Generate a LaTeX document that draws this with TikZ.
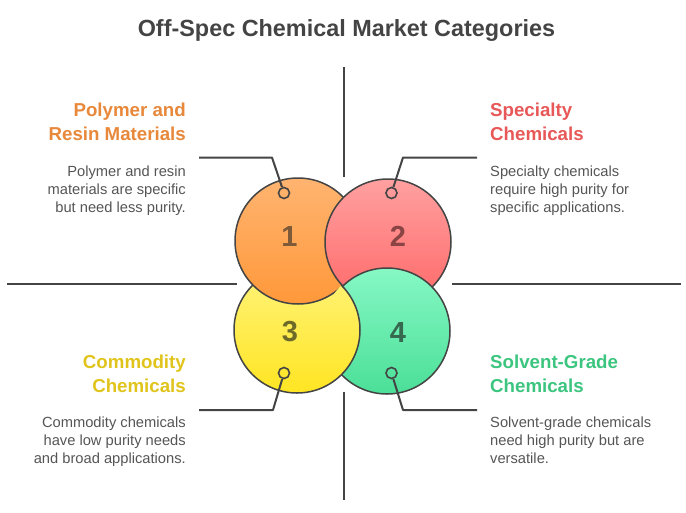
\documentclass[tikz,border=0pt]{standalone}
\usepackage{fontspec}
\setmainfont{Liberation Sans}
\definecolor{dark}{HTML}{444444}
\definecolor{bodygray}{HTML}{555555}
\definecolor{orA}{HTML}{FFB470}
\definecolor{orB}{HTML}{FF983A}
\definecolor{rdA}{HTML}{FFA0A0}
\definecolor{rdB}{HTML}{FF6868}
\definecolor{ylA}{HTML}{FFF37C}
\definecolor{ylB}{HTML}{FFE522}
\definecolor{gnA}{HTML}{86F8C4}
\definecolor{gnB}{HTML}{4BDF98}
\definecolor{hOr}{HTML}{E8883A}
\definecolor{hRd}{HTML}{E85858}
\definecolor{hYl}{HTML}{E0C41C}
\definecolor{hGn}{HTML}{3CC57F}
\definecolor{nOr}{HTML}{7E5A38}
\definecolor{nRd}{HTML}{8A4444}
\definecolor{nYl}{HTML}{6E6A2A}
\definecolor{nGn}{HTML}{35684F}
\begin{document}
\begin{tikzpicture}[x=1pt,y=-1pt,
  ring/.style={draw=dark,line width=1.5pt},
  lead/.style={draw=dark,line width=2pt},
  marker/.style={circle,draw=dark,line width=1.6pt,minimum size=11pt,inner sep=0pt},
  head/.style={font=\bfseries\fontsize{18.7}{23.5}\selectfont,inner sep=0pt},
  body/.style={font=\fontsize{14.7}{18}\selectfont,text=bodygray,inner sep=0pt},
  num/.style={font=\bfseries\fontsize{29}{29}\selectfont,inner sep=0pt},
  ttl/.style={font=\bfseries\fontsize{23.4}{23.4}\selectfont,text=dark,inner sep=0pt}]
\useasboundingbox (0,0) rectangle (686,512);
\node[ttl,anchor=base] (title) at (346.5,36.7) {Off-Spec Chemical Market Categories};
% cross lines
\coordinate (vt1) at (344,67); \coordinate (vt2) at (344,177);
\coordinate (vb1) at (344,392); \coordinate (vb2) at (344,500);
\coordinate (hl1) at (7,284); \coordinate (hl2) at (237,284);
\coordinate (hr1) at (452,284); \coordinate (hr2) at (681,284);
\draw[lead] (vt1) -- (vt2);
\draw[lead] (vb1) -- (vb2);
\draw[lead] (hl1) -- (hl2);
\draw[lead] (hr1) -- (hr2);
% circles (woven)
\path[ring,top color=ylA,bottom color=ylB] (297,330) circle (63);
\path[ring,top color=orA,bottom color=orB] (298,241) circle (63);
\path[ring,top color=rdA,bottom color=rdB] (388,242) circle (63);
\path[ring,top color=gnA,bottom color=gnB] (387,331) circle (63);
\begin{scope}
  \clip (387,331) circle (64.6);
  \path[ring,top color=ylA,bottom color=ylB] (297,330) circle (63);
\end{scope}
% numbers
\node[num,text=nOr] (n1) at (289.5,236.7) {1};
\node[num,text=nRd] (n2) at (398,236.7) {2};
\node[num,text=nYl] (n3) at (290,331.5) {3};
\node[num,text=nGn] (n4) at (398,332.5) {4};
% markers and leaders
\node[marker] (m1) at (284,193) {};
\node[marker] (m2) at (391.5,193) {};
\node[marker] (m3) at (284,373) {};
\node[marker] (m4) at (391.5,373) {};
\coordinate (b1) at (272,157.5); \coordinate (e1) at (199,157.5);
\coordinate (b2) at (403,157.5); \coordinate (e2) at (477,157.5);
\coordinate (b3) at (273,410); \coordinate (e3) at (199,410);
\coordinate (b4) at (403,410); \coordinate (e4) at (477,410);
\draw[lead,line join=round] (m1) -- (b1) -- (e1);
\draw[lead,line join=round] (m2) -- (b2) -- (e2);
\draw[lead,line join=round] (m3) -- (b3) -- (e3);
\draw[lead,line join=round] (m4) -- (b4) -- (e4);
% texts (base anchor = baseline of last line)
\node[head,text=hOr,align=right,anchor=base east] (h1) at (186,140) {Polymer and\\Resin Materials};
\node[body,align=right,anchor=base east] (t1) at (186,212) {Polymer and resin\\materials are specific\\but need less purity.};
\node[head,text=hRd,align=left,anchor=base west] (h2) at (490,140) {Specialty\\Chemicals};
\node[body,align=left,anchor=base west] (t2) at (490,212) {Specialty chemicals\\require high purity for\\specific applications.};
\node[head,text=hYl,align=right,anchor=base east] (h3) at (186,392) {Commodity\\Chemicals};
\node[body,align=right,anchor=base east] (t3) at (186,463) {Commodity chemicals\\have low purity needs\\and broad applications.};
\node[head,text=hGn,align=left,anchor=base west] (h4) at (490,392) {Solvent-Grade\\Chemicals};
\node[body,align=left,anchor=base west] (t4) at (490,463) {Solvent-grade chemicals\\need high purity but are\\versatile.};
\end{tikzpicture}
\end{document}
